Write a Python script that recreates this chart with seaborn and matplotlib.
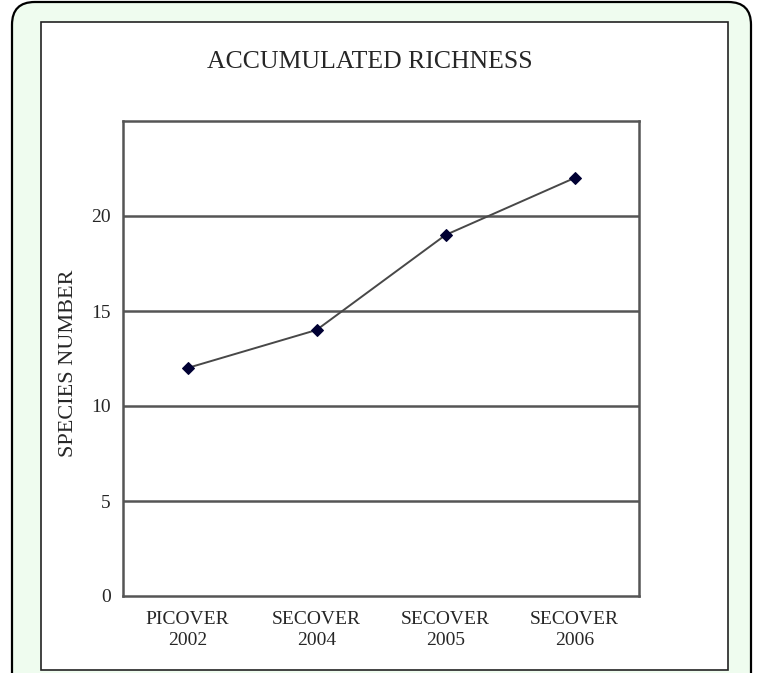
import matplotlib
matplotlib.use("Agg")
import matplotlib.pyplot as plt
import seaborn as sns
import pandas as pd
from matplotlib.patches import FancyBboxPatch, Rectangle

# Data
stages = ["PICOVER\n2002", "SECOVER\n2004", "SECOVER\n2005", "SECOVER\n2006"]
richness = [12, 14, 19, 22]
y_ticks = [0, 5, 10, 15, 20]

df = pd.DataFrame({"Stage": stages, "Richness": richness})

sns.set_style("white")
plt.rcParams["font.family"] = ["Liberation Serif", "DejaVu Serif"]

W, H = 759, 673
fig = plt.figure(figsize=(W / 100, H / 100), dpi=100, facecolor="white")

# Outer rounded panel (light green) and inner white frame
outer = FancyBboxPatch((12 / W, -0.05), 739 / W, 1.05 - 2 / H,
                       boxstyle="round,pad=0,rounding_size=0.03",
                       transform=fig.transFigure, facecolor="#effcef",
                       edgecolor="black", linewidth=1.6, zorder=-2,
                       mutation_aspect=W / H)
fig.patches.append(outer)
inner = Rectangle((41 / W, 1 - 670 / H), 687 / W, 648 / H,
                  transform=fig.transFigure, facecolor="white",
                  edgecolor="#222222", linewidth=1.2, zorder=-1)
fig.patches.append(inner)

ax = fig.add_axes([123 / W, 1 - 596 / H, 516 / W, 475 / H])
ax.set_zorder(2)
ax.set_facecolor("white")

x_pos = list(range(len(stages)))
sns.lineplot(x=x_pos, y=df["Richness"], ax=ax, color="#484848", linewidth=1.4,
             marker="D", markersize=6.5, markerfacecolor="#000033",
             markeredgecolor="#000033", zorder=3)

ax.set_xlim(-0.5, len(stages) - 0.5)
ax.set_ylim(0, 25)
ax.set_yticks(y_ticks)
ax.set_yticklabels([str(v) for v in y_ticks], fontsize=14)
for v in y_ticks[1:]:
    ax.axhline(v, color="#555555", linewidth=1.8, zorder=1)

ax.set_xticks(x_pos)
ax.set_xticklabels(stages, fontsize=14, linespacing=1.25)
ax.set_xticks([i - 0.5 for i in range(len(stages) + 1)], minor=True)
ax.tick_params(axis="x", which="major", length=0, pad=11)
ax.tick_params(axis="x", which="minor", length=5, width=1.5, color="#555555",
               direction="out")
ax.tick_params(axis="y", length=5, width=1.5, color="#555555", direction="out", pad=4)

for s in ax.spines.values():
    s.set_visible(True)
    s.set_color("#555555")
    s.set_linewidth(1.8)

ax.set_xlabel("")
ax.set_ylabel("SPECIES NUMBER", fontsize=16)
ax.yaxis.set_label_coords(-0.088, 0.49)

fig.text(370 / W, 1 - 62 / H, "ACCUMULATED RICHNESS", ha="center", va="center",
         fontsize=18.5)

fig.savefig("out.png", dpi=100, facecolor="white")
